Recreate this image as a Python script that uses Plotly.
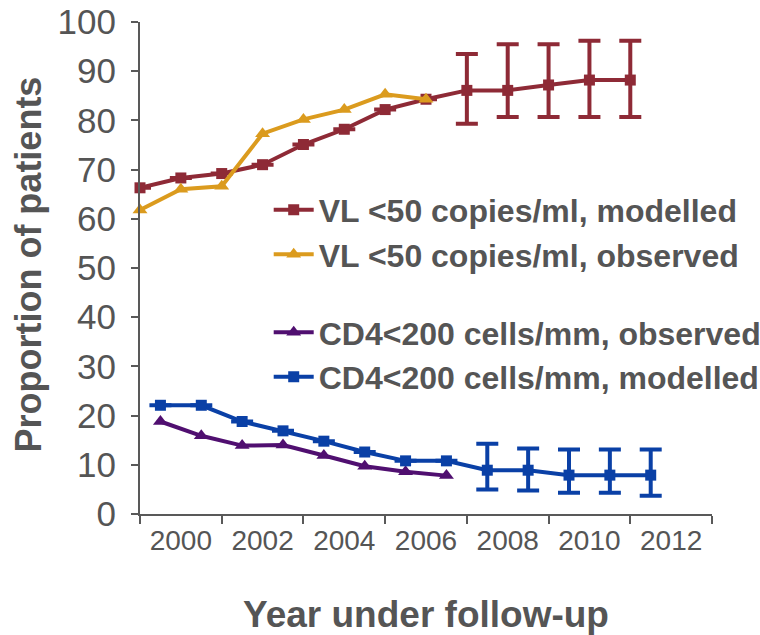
import plotly.graph_objects as go

# ---- data ----
years_vl = [1999, 2000, 2001, 2002, 2003, 2004, 2005, 2006, 2007, 2008, 2009, 2010, 2011]
vl_modelled = [66.3, 68.3, 69.2, 71.0, 75.1, 78.2, 82.2, 84.3, 86.1, 86.1, 87.2, 88.2, 88.2]
vl_mod_err_plus = [None, None, None, None, None, None, None, None, 7.4, 9.4, 8.3, 8.0, 8.0]
vl_mod_err_minus = [None, None, None, None, None, None, None, None, 6.8, 5.4, 6.5, 7.5, 7.5]

years_vl_obs = [1999, 2000, 2001, 2002, 2003, 2004, 2005, 2006]
vl_observed = [61.8, 66.0, 66.6, 77.3, 80.2, 82.2, 85.3, 84.3]

years_cd4 = [1999.5, 2000.5, 2001.5, 2002.5, 2003.5, 2004.5, 2005.5, 2006.5, 2007.5, 2008.5, 2009.5, 2010.5, 2011.5]
cd4_modelled = [22.1, 22.1, 18.8, 16.9, 14.8, 12.6, 10.8, 10.8, 8.9, 8.9, 7.9, 7.9, 7.9]
cd4_mod_err_plus = [None, None, None, None, None, None, None, None, 5.4, 4.4, 5.2, 5.2, 5.2]
cd4_mod_err_minus = [None, None, None, None, None, None, None, None, 3.9, 4.1, 3.6, 3.6, 4.2]

years_cd4_obs = [1999.5, 2000.5, 2001.5, 2002.5, 2003.5, 2004.5, 2005.5, 2006.5]
cd4_observed = [18.8, 15.9, 13.9, 14.0, 11.9, 9.7, 8.6, 7.8]

x_tick_labels = ["2000", "2002", "2004", "2006", "2008", "2010", "2012"]
x_tick_vals = [2000, 2002, 2004, 2006, 2008, 2010, 2012]
y_title = "Proportion of patients"
x_title = "Year under follow-up"

RED = "#8E2A36"
YEL = "#DB9B1E"
PUR = "#500F70"
BLU = "#0A40A6"
TXT = "#555555"
AX = "#595959"
FONT = "Liberation Sans, Arial, sans-serif"

fig = go.Figure()

fig.add_trace(go.Scatter(
    x=years_vl, y=vl_modelled, name="VL <50 copies/ml, modelled",
    mode="lines+markers", line=dict(color=RED, width=4),
    marker=dict(symbol="square", size=11, color=RED),
    error_y=dict(type="data", array=vl_mod_err_plus, arrayminus=vl_mod_err_minus,
                 color=RED, thickness=4, width=11, symmetric=False),
    cliponaxis=False, legend="legend",
))
fig.add_trace(go.Scatter(
    x=years_vl_obs, y=vl_observed, name="VL <50 copies/ml, observed",
    mode="lines+markers", line=dict(color=YEL, width=4),
    marker=dict(symbol="triangle-up", size=13, color=YEL),
    cliponaxis=False, legend="legend",
))
fig.add_trace(go.Scatter(
    x=years_cd4_obs, y=cd4_observed, name="CD4<200 cells/mm, observed",
    mode="lines+markers", line=dict(color=PUR, width=4),
    marker=dict(symbol="triangle-up", size=13, color=PUR),
    cliponaxis=False, legend="legend2",
))
fig.add_trace(go.Scatter(
    x=years_cd4, y=cd4_modelled, name="CD4<200 cells/mm, modelled",
    mode="lines+markers", line=dict(color=BLU, width=4),
    marker=dict(symbol="square", size=11, color=BLU),
    error_y=dict(type="data", array=cd4_mod_err_plus, arrayminus=cd4_mod_err_minus,
                 color=BLU, thickness=4, width=11, symmetric=False),
    cliponaxis=False, legend="legend2",
))

legend_font = dict(family=FONT, size=32, color=TXT, weight="bold")

fig.update_layout(
    width=760, height=635,
    margin=dict(l=140, r=48, t=22, b=121, autoexpand=False),
    paper_bgcolor="white", plot_bgcolor="white",
    font=dict(family=FONT, color=TXT),
    legend=dict(x=0.225, y=0.674, xanchor="left", yanchor="top", font=legend_font,
                bgcolor="rgba(0,0,0,0)", tracegroupgap=0, itemwidth=40),
    legend2=dict(x=0.225, y=0.425, xanchor="left", yanchor="top", font=legend_font,
                 bgcolor="rgba(0,0,0,0)", tracegroupgap=0, itemwidth=40),
    xaxis=dict(
        range=[1999, 2013], tickvals=x_tick_vals, ticktext=x_tick_labels,
        ticks="", showgrid=False, zeroline=False, automargin=False,
        showline=True, linecolor=AX, linewidth=2,
        tickfont=dict(family=FONT, size=28, color=TXT),
        ticklabelstandoff=0,
        minor=dict(tickvals=[1999, 2001, 2003, 2005, 2007, 2009, 2011, 2013],
                   ticks="outside", ticklen=8, tickwidth=2, tickcolor=AX, showgrid=False),
        title=dict(text=x_title, standoff=49,
                   font=dict(family=FONT, size=37, color=TXT, weight="bold")),
    ),
    yaxis=dict(
        range=[0, 100], dtick=10, ticks="outside", ticklen=7, tickwidth=2, tickcolor=AX,
        showgrid=False, zeroline=False, automargin=False,
        showline=True, linecolor=AX, linewidth=2,
        tickfont=dict(family=FONT, size=35, color=TXT),
        ticklabelstandoff=8,
    ),
    annotations=[dict(
        text=y_title, textangle=-90, xref="paper", yref="paper",
        x=-0.194, y=0.507, xanchor="center", yanchor="middle", showarrow=False,
        font=dict(family=FONT, size=36, color=TXT, weight="bold"),
    )],
)

fig.write_html("out.html")
